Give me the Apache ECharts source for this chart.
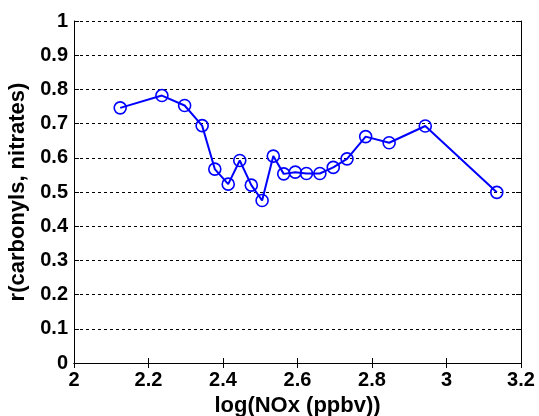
<!DOCTYPE html>
<html>
<head>
<meta charset="utf-8">
<script src="https://cdn.jsdelivr.net/npm/echarts@6/dist/echarts.min.js"></script>
<style>
  html, body { margin: 0; padding: 0; background: #fff; }
  #main { width: 539px; height: 416px; }
</style>
</head>
<body>
<div id="main"></div>
<script>
// log(NOx) bins and correlation values
var logNOx = [2.124, 2.236, 2.297, 2.344, 2.378, 2.414, 2.445, 2.476, 2.505, 2.535,
              2.563, 2.594, 2.624, 2.660, 2.696, 2.733, 2.783, 2.846, 2.943, 3.135];
var rVals = [0.746, 0.782, 0.753, 0.694, 0.567, 0.523, 0.592, 0.520, 0.475, 0.605,
             0.553, 0.558, 0.554, 0.554, 0.572, 0.597, 0.662, 0.644, 0.693, 0.499];

var xTitle = 'log(NOx (ppbv))';
var yTitle = 'r(carbonyls, nitrates)';

var chart = echarts.init(document.getElementById('main'));
var font = 'Liberation Sans, Arial, sans-serif';
var pts = logNOx.map(function (x, i) { return [x, rVals[i]]; });

var option = {
  animation: false,
  grid: { left: 74, right: 18, top: 21, bottom: 53, outerBoundsMode: 'none' },
  xAxis: [
    {
      type: 'value', min: 2, max: 3.2, interval: 0.2,
      name: xTitle, nameLocation: 'middle', nameGap: 30,
      nameTextStyle: { fontFamily: font, fontWeight: 'bold', fontSize: 22, color: '#000' },
      axisLine: { lineStyle: { color: '#000', width: 1 } },
      axisTick: { inside: true, length: 5, lineStyle: { color: '#000' } },
      axisLabel: { fontFamily: font, fontWeight: 'bold', fontSize: 20, color: '#000', margin: 7 },
      splitLine: { show: false }
    },
    {
      type: 'value', min: 2, max: 3.2, interval: 0.2, position: 'top',
      axisLine: { show: true, lineStyle: { color: '#000', width: 1 } },
      axisTick: { inside: true, length: 5, lineStyle: { color: '#000' } },
      axisLabel: { show: false },
      splitLine: { show: false }
    }
  ],
  yAxis: [
    {
      type: 'value', min: 0, max: 1, interval: 0.1,
      name: yTitle, nameLocation: 'middle', nameGap: 30, nameRotate: 90,
      nameTextStyle: { fontFamily: font, fontWeight: 'bold', fontSize: 22, color: '#000' },
      axisLine: { show: true, lineStyle: { color: '#000', width: 1 } },
      axisTick: { show: true, inside: true, length: 5, lineStyle: { color: '#000' } },
      axisLabel: { fontFamily: font, fontWeight: 'bold', fontSize: 20, color: '#000', margin: 6 },
      splitLine: { show: true, lineStyle: { color: '#000', type: [3, 3], width: 1 } }
    },
    {
      type: 'value', min: 0, max: 1, interval: 0.1, position: 'right',
      axisLine: { show: true, lineStyle: { color: '#000', width: 1 } },
      axisTick: { show: true, inside: true, length: 5, lineStyle: { color: '#000' } },
      axisLabel: { show: false },
      splitLine: { show: false }
    }
  ],
  series: [
    {
      type: 'line',
      data: pts,
      symbol: 'circle',
      symbolSize: 12,
      showAllSymbol: true,
      lineStyle: { color: '#0000ff', width: 2 },
      itemStyle: { color: 'rgba(0,0,0,0)', borderColor: '#0000ff', borderWidth: 1.6 }
    }
  ]
};
chart.setOption(option);
</script>
</body>
</html>
